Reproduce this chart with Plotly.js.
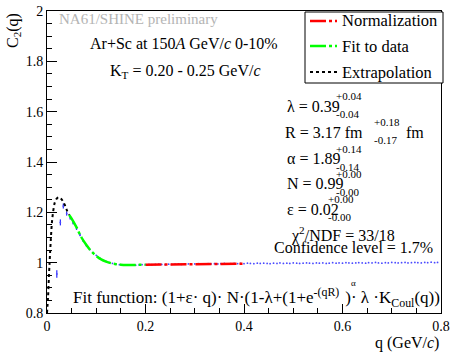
<!DOCTYPE html>
<html>
<head>
<meta charset="utf-8">
<script src="https://cdn.plot.ly/plotly-3.0.1.min.js"></script>
<style>html,body{margin:0;padding:0;background:#fff;}#chart{width:450px;height:353px;}</style>
</head>
<body>
<div id="chart"></div>
<script>
// Measured data points (q in GeV/c, C2)
const dataQ = [0.020,0.027,0.033,0.040,0.047,0.053,0.060,0.067,0.073,0.080,
  0.087,0.093,0.100,0.107,0.113,0.120,0.127,0.133,0.140,0.147,
  0.153,0.160,0.167,0.173,0.180,0.187,0.193,0.200,0.207,0.213,
  0.220,0.227,0.233,0.240,0.247,0.253,0.260,0.267,0.273,0.280,
  0.287,0.293,0.300,0.307,0.313,0.320,0.327,0.333,0.340,0.347,
  0.353,0.360,0.367,0.373,0.380,0.387,0.393,0.400,0.407,0.413,
  0.420,0.427,0.433,0.440,0.447,0.453,0.460,0.467,0.473,0.480,
  0.487,0.493,0.500,0.507,0.513,0.520,0.527,0.533,0.540,0.547,
  0.553,0.560,0.567,0.573,0.580,0.587,0.593,0.600,0.607,0.613,
  0.620,0.627,0.633,0.640,0.647,0.653,0.660,0.667,0.673,0.680,
  0.687,0.693,0.700,0.707,0.713,0.720,0.727,0.733,0.740,0.747,
  0.753,0.760,0.767,0.773,0.780,0.787,0.793];
const dataC2 = [0.955,1.160,1.225,1.195,1.178,1.158,1.135,1.110,1.088,1.068,
  1.052,1.040,1.029,1.019,1.011,1.005,1.000,0.997,0.994,0.992,
  0.991,0.990,0.990,0.991,0.990,0.991,0.992,0.992,0.993,0.992,
  0.993,0.994,0.993,0.992,0.994,0.993,0.994,0.995,0.993,0.994,
  0.995,0.994,0.995,0.996,0.994,0.995,0.996,0.995,0.996,0.995,
  0.996,0.997,0.995,0.996,0.997,0.996,0.997,0.996,0.998,0.997,
  0.996,0.998,0.997,0.998,0.997,0.996,0.998,0.997,0.999,0.997,
  0.998,0.997,0.999,0.998,0.997,0.998,0.999,0.998,0.997,0.999,
  0.998,0.999,0.997,0.998,1.000,0.998,0.999,0.998,1.000,0.999,
  0.998,0.999,1.000,0.999,0.998,1.000,0.999,1.001,0.999,0.998,
  1.000,0.999,1.001,1.000,0.999,1.000,1.001,0.999,1.000,1.001,
  1.000,0.999,1.001,1.000,1.002,1.000,1.001];
const dataErr = [0.015,0.012,0.010,0.008,0.007,0.006,0.005,0.005,0.004,0.004];

// Fit curve pieces
const extrapQ = [0.000,0.002,0.004,0.006,0.008,0.010,0.013,0.016,0.020,0.024,0.028,0.032,0.036,0.040,0.045];
const extrapC2 = [0.80,0.86,0.95,1.03,1.10,1.16,1.21,1.24,1.255,1.26,1.255,1.245,1.23,1.21,1.19];
const fitQ = [0.045,0.05,0.06,0.07,0.08,0.09,0.10,0.11,0.12,0.13,0.14,0.15,0.16,0.17,0.18,0.19,0.20];
const fitC2 = [1.19,1.175,1.14,1.10,1.07,1.045,1.027,1.013,1.004,0.998,0.994,0.992,0.991,0.991,0.991,0.992,0.992];
const normQ = [0.20,0.25,0.30,0.35,0.40];
const normC2 = [0.992,0.993,0.994,0.995,0.996];

const seriesNames = ["Normalization","Fit to data","Extrapolation"];
const xTicks = [0,0.2,0.4,0.6,0.8];
const yTicks = [0.8,1,1.2,1.4,1.6,1.8,2];

const FONT = "Liberation Serif, Times New Roman, serif";
const L = 47, R = 441, T = 11, B = 313;
function px(x){return (x-L)/(R-L);}
function py(y){return (B-y)/(B-T);}

const styles = [
  {color:'#ff0000', width:2.5, dash:'16px,3px,3px,3px'},
  {color:'#00ff00', width:2.5, dash:'16px,3px,3px,3px'},
  {color:'#000000', width:2, dash:'dot'}
];

const traces = [
  {x: dataQ, y: dataC2, type:'scatter', mode:'markers', showlegend:false,
   marker:{symbol:'circle', size:1.8, color:'#4a4aff', line:{width:0}},
   error_y:{type:'data', array:dataErr, visible:true, color:'#0000ff', thickness:1, width:0}},
  {x: normQ, y: normC2, type:'scatter', mode:'lines', name:seriesNames[0], showlegend:false,
   line:styles[0]},
  {x: fitQ, y: fitC2, type:'scatter', mode:'lines', name:seriesNames[1], showlegend:false,
   line:Object.assign({shape:'spline'}, styles[1])},
  {x: extrapQ, y: extrapC2, type:'scatter', mode:'lines', name:seriesNames[2], showlegend:false,
   line:Object.assign({shape:'spline'}, styles[2])}
];

function ann(text, x, y, opts){
  return Object.assign({text:text, xref:'paper', yref:'paper', x:px(x), y:py(y),
    xanchor:'left', yanchor:'middle', showarrow:false,
    font:{family:FONT, size:16, color:'#000'}}, opts||{});
}
const small = {font:{family:FONT, size:11, color:'#000'}};

// legend box (drawn as a framed key)
const legRows = [21, 46, 72];
const shapes = [{type:'rect', xref:'paper', yref:'paper', x0:px(305), x1:px(443), y0:py(83), y1:py(12),
  line:{color:'#000', width:1}, fillcolor:'#fff', layer:'above'}];
const legendAnns = [];
seriesNames.forEach(function(n, i){
  shapes.push({type:'line', xref:'paper', yref:'paper', x0:px(310), x1:px(337), y0:py(legRows[i]), y1:py(legRows[i]),
    line:styles[i], layer:'above'});
  legendAnns.push(ann(n, 340, legRows[i], {font:{family:FONT, size:16.5, color:'#000'}}));
});

const annotations = [
  ann('NA61/SHINE preliminary', 57, 19, {font:{family:FONT, size:15, color:'#b4b4b4'}}),
  ann('Ar+Sc at 150<i>A</i> GeV/<i>c</i> 0-10%', 88, 43),
  ann('K<sub>T</sub> = 0.20 - 0.25 GeV/<i>c</i>', 108, 71),
  ann('λ = 0.39', 285, 106), ann('+0.04', 334, 96, small), ann('-0.04', 334, 114, small),
  ann('R = 3.17 fm', 283, 132), ann('+0.18', 372, 122, small), ann('-0.17', 372, 140, small), ann('fm', 404, 132),
  ann('α = 1.89', 285, 159), ann('+0.14', 334, 149, small), ann('-0.14', 334, 167, small),
  ann('N = 0.99', 285, 184), ann('+0.00', 334, 174, small), ann('-0.00', 334, 192, small),
  ann('ε = 0.02', 285, 209), ann('+0.00', 326, 199, small), ann('-0.00', 326, 217, small),
  ann('χ<sup>2</sup>/NDF = 33/18', 289, 234),
  ann('Confidence level = 1.7%', 272, 247),
  ann('Fit function: (1+ε· q)· N·(1-λ+(1+e<sup>-(qR)\u00A0\u00A0</sup>)· λ ·K<sub>Coul</sub>(q))', 71, 297,
      {font:{family:FONT, size:17, color:'#000'}}),
  ann('α', 349, 283, {font:{family:FONT, size:9, color:'#000'}}),
  ann('C<sub>2</sub>(q)', 13, 31, {xanchor:'center', textangle:-90}),
  ann('q (GeV/<i>c</i>)', 441, 343, {xanchor:'right'})
].concat(legendAnns);

const axisCommon = {showgrid:false, zeroline:false, showline:true, linecolor:'#000', linewidth:1,
  mirror:true, ticks:'inside', tickcolor:'#000', tickwidth:1,
  tickfont:{family:FONT, size:14, color:'#000'}};

const layout = {
  width:450, height:353,
  margin:{l:L, r:450-R, t:T, b:353-B, pad:0},
  paper_bgcolor:'#fff', plot_bgcolor:'#fff',
  font:{family:FONT},
  showlegend:false,
  xaxis: Object.assign({}, axisCommon, {range:[0,0.8], tickvals:xTicks, ticklen:9,
    minor:{dtick:0.05, ticklen:5, tickcolor:'#000', ticks:'inside', showgrid:false}}),
  yaxis: Object.assign({}, axisCommon, {range:[0.8,2], tickvals:yTicks, ticklen:10,
    minor:{dtick:0.05, ticklen:5, tickcolor:'#000', ticks:'inside', showgrid:false}}),
  shapes: shapes,
  annotations: annotations
};

Plotly.newPlot('chart', traces, layout, {staticPlot:true, displayModeBar:false});
</script>
</body>
</html>
